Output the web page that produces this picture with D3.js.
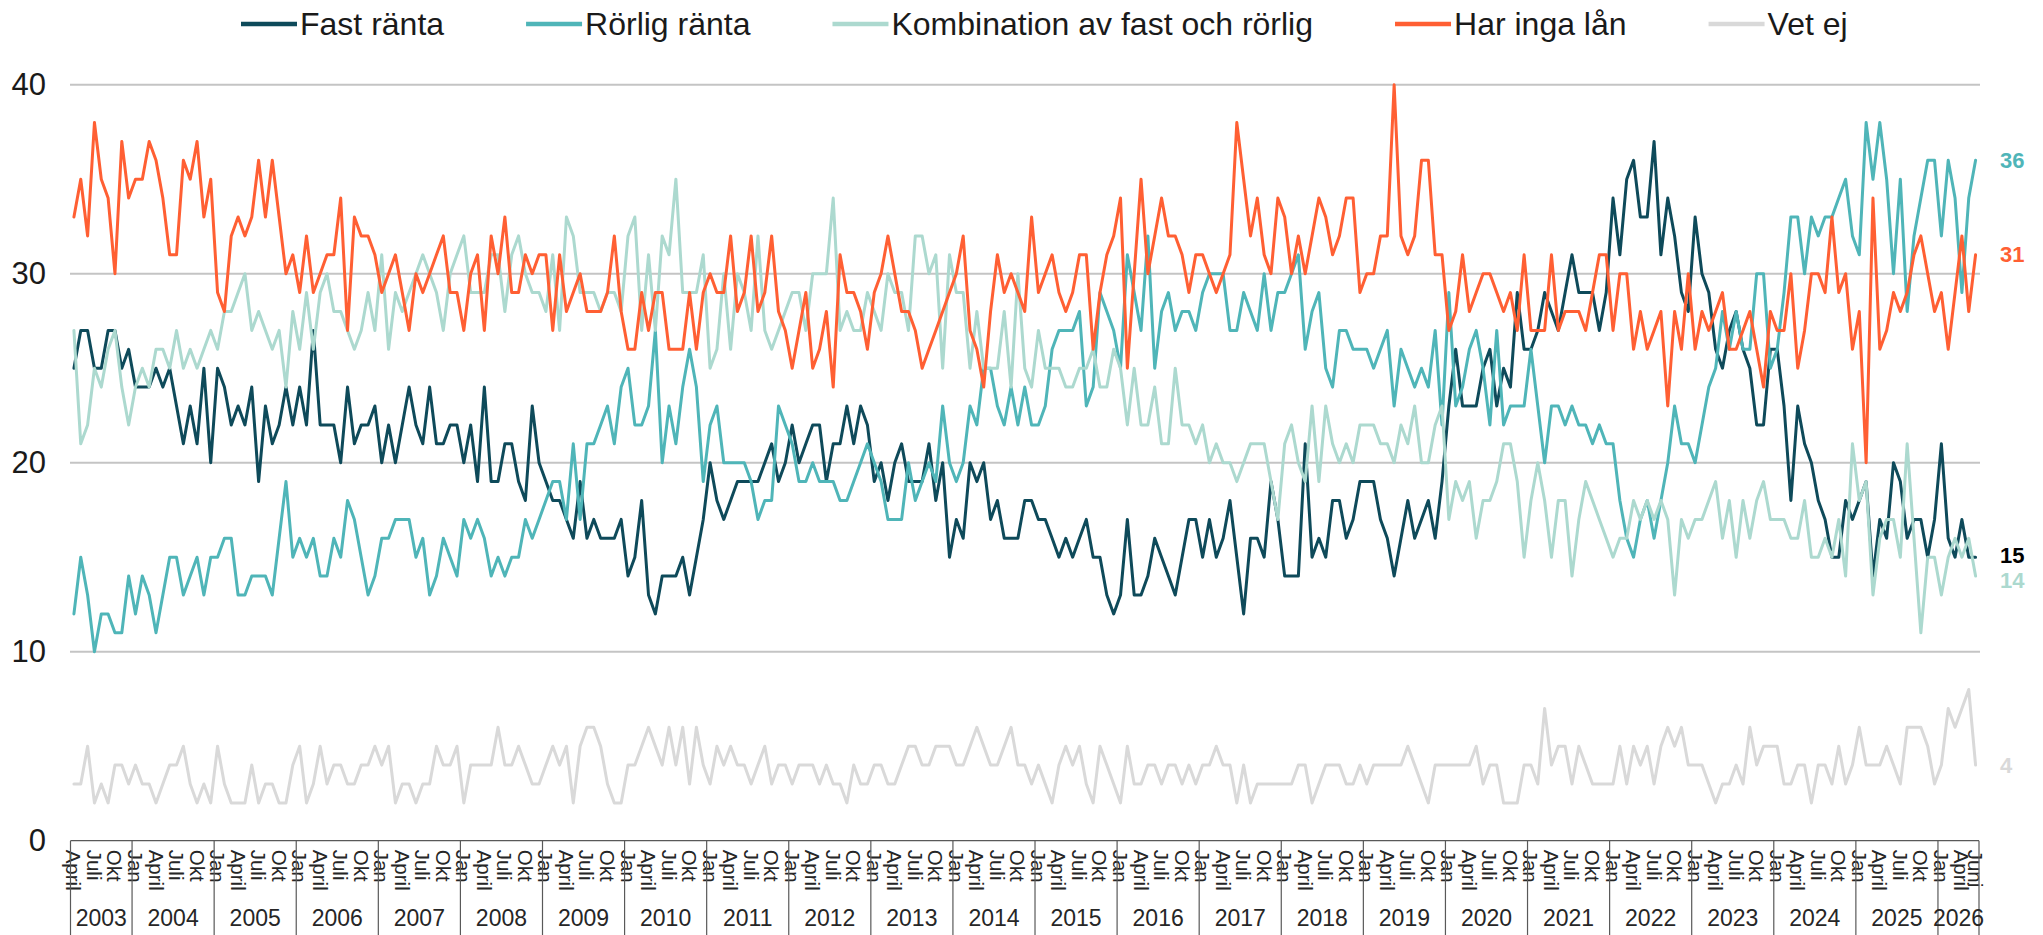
<!DOCTYPE html>
<html>
<head>
<meta charset="utf-8">
<script src="https://cdn.jsdelivr.net/npm/d3@7"></script>
<style>
  body { margin: 0; background: #fff; }
  svg { display: block; }
  text { font-family: "Liberation Sans", Arial, sans-serif; }
</style>
</head>
<body>
<div id="chart"></div>
<script>
// First category is April 2003, one value per month up to June 2026
const startYear = 2003;
const startMonth = 4;
const monthNames = ["Jan", "Feb", "Mars", "April", "Maj", "Juni", "Juli", "Aug", "Sep", "Okt", "Nov", "Dec"];
const labelMonths = [1, 4, 7, 10]; // months that get a tick label
const yTicks = [0, 10, 20, 30, 40];

const seriesNames = ["Fast ränta", "Rörlig ränta", "Kombination av fast och rörlig", "Har inga lån", "Vet ej"];
const seriesColors = ["#0e4a5a", "#4fb5b8", "#acd9cf", "#ff5f33", "#d9d9d9"];
const endLabelColors = ["#000000", "#4fb5b8", "#acd9cf", "#ff5f33", "#d9d9d9"];
const endLabelNudge = [-2, 0, 4, 0, 0]; // keeps 15 and 14 apart a little

const fastRanta = [
  25,27,27,25,25,27,27,25,26,24, 24,24,25,24,25,23,21,23,21,25, 20,25,24,22,23,22,24,19,23,21, 22,24,22,24,22,27,22,22,22,20, 24,21,22,22,23,20,22,
  20,22,24,22,21,24,21,21,22,22, 20,22,19,24,19,19,21,21,19,18, 23,20,19,18,18,17,16,19,16,17, 16,16,16,17,14,15,18,13,12,14, 14,14,15,13,15,17,
  20,18,17,18,19,19,19,19,20,21, 19,20,22,20,21,22,22,19,21,21, 23,21,23,22,19,20,
  18,20,21,19,19,19,21,18,20,15, 17,16,20,19,20,17,18,16,16,16, 18,18,17,17,16,15,16,15,16,17, 15,15,13,12,13,17,13,13,14,16,
  15,14,13,15,17,17,15,17,15,16, 18,15,12,16,16,15,19,17,14,14, 14,21,15,16,15,18,18,16,
  17,19,19,19,17,16,14,16,18,16,17,18,16,19,
  23,26,23,23,23,25,26,23,25,24, 29,26,26,27,29,28,27,29,31,29, 29,29,27,29,34,31,35,36,33,33, 37,
  31,34,32,29,28,33,30,29,26,25, 27,28,26,25,22,22,26,26,23,18, 23,21,20,18,
  17,15,15,18,17,18,19,14,17,16, 20,19,16,17,17,15,17,21,16,15, 17,15,15
];

const rorligRanta = [
  12,15,13,10,12,12,11,11,14,12, 14,13,11,13,15,15,13,14,15,13, 15,15,16,16,13,13,14,14,14,13, 16,19,15,16,15,16,14,14,16,15,
  18,17,15,13,14,16,16,17,17,17, 15,16,13,14,16,15,14,17,16,17, 16,14,15,14,15,15,17,16,17,18, 19,19,17,21,17,21,21,
  22,23,21,24,25,22,22,23,27,20,23,21,24,26,24,
  19,22,23,20,20,20,20,19,17,18, 18,23,22,21,19,19,20,19,19,19, 18,18,19,20,21,20,19,17,17,17, 20,18,19,20,19,23,20,19,20,23, 22,25,25,23,22,24,22,24,22,
  22,23,26,27,27,27,28,23,24,29, 28,27,25,31,29,27,32,25,28,29, 27,28,28,27,29,30,30,30,27,27, 29,28,27,30,27,29,29,30,31,26, 28,29,25,24,27,27,26,
  26,26,25,26,27,23,26,25,24,25, 24,27,22,29,23,24,26,27,25,22, 27,22,23,23,23,26,23,20,23,23, 22,23,22,22,21,22,21,21,
  18,16,15,17,18,16,18,20,
  23,21,21,20,22,24,25,28,26,28, 26,26,30,30,25,26,29,33,33,30, 33,32,33,33,34,35,32,31,38,35, 38,35,30,35,28,32,34,36,36,32, 36,34,29,34,36
];

const kombination = [
  27,21,22,25,24,26,27,24,22,24, 25,24,26,26,25,27,25,26,25,26, 27,26,28,28,29,30,27,28,27,26, 27,24,28,26,29,26,29,30,28,28, 27,26,27,29,27,31,26,
  29,28,29,30,31,30,29,27,30,31, 32,29,29,29,31,31,28,31,32,30, 29,29,28,31,27,33,32,29,29,29, 28,29,29,28,32,33,27,31,27,32, 31,35,29,29,29,31,25,
  26,30,26,30,29,27,32,27,26,27, 28,29,29,27,30,30,30,34,27,28, 27,27,29,28,27,30,29,29,27,32, 32,30,31,25,31,29,29,25,28,25, 25,25,28,24,30,25,24,
  27,25,25,25,24,24,25,25,26,24, 24,26,25,22,25,22,22,24,21,21, 25,22,22,21,22,20,21,20,20,19, 20,21,21,21,19,17,21,22,20,19, 23,19,23,21,20,21,20,22,22,22, 21,21,20,22,21,23,20,20,22,23,
  17,19,18,19,16,18,18,19,21,21, 19,15,18,20,18,15,18,18,14,17, 19,18,17,16,15,16,16,18,17,18, 17,18,17,13,17,16,17,17,18,19, 16,18,15,18,16,18,19,17,17,17,
  16,16,18,15,15,16,15,17,14,21, 18,19,13,16,17,17,15,21,16,11, 15,15,13,15,16,15,16,14
];

const harIngaLan = [
  33,35,32,38,35,34,30,37,34,35, 35,37,36,34,31,31,36,35,37,33, 35,29,28,32,33,32,33,36,33,36, 33,30,31,29,32,29,30,31,31,34, 27,33,32,32,31,29,30,
  31,29,27,30,29,30,31,32,29,29, 27,30,31,27,32,30,33,29,29,31, 30,31,31,27,31,28,29,30,28,28, 28,29,32,28,26,26,29,27,29,29, 26,26,26,29,26,29,30,
  29,29,32,28,29,32,28,29,32,28, 27,25,27,29,25,26,28,24,31,29, 29,28,26,29,30,32,30,28,28,27, 25,26,27,28,29,30,32,27,26,24, 28,31,29,30,29,28,33,
  29,30,31,29,28,29,31,31,26,29, 31,32,34,25,30,35,30,32,34,32, 32,31,29,31,31,30,29,30,31,38, 35,32,34,31,30,34,33,30,32,30, 32,34,33,31,32,34,34,
  29,30,30,32,32,40,32,31,32,36, 36,31,31,27,28,31,28,29,30,30, 29,28,29,27,31,27,27,27,31,27, 28,28,28,27,29,31,31,27,30,30, 26,28,26,27,
  28,23,28,26,30,26,28,27,28,29, 26,26,27,28,26,24,28,27,27,30, 25,27,30,30,29,33,29,30,26,28, 20,34,26,27,29,28,29,31,32,30, 28,29,26,29,32,28,31
];

const vetEj = [
  3,3,5,2,3,2,4,4,3,4, 3,3,2,3,4,4,5,3,2,3, 2,5,3,2,2,2,4,2,3,3, 2,2,4,5,2,3,5,3,4,4, 3,3,4,4,5,4,5,2,3,3,
  2,3,3,5,4,4,5,2,4,4, 4,4,6,4,4,5,4,3,3,4, 5,4,5,2,5,6,6,5,3,2, 2,4,4,5,6,5,4,6,4,6, 3,6,4,
  3,5,4,5,4,4,3,4,5,3, 4,4,3,4,4,4,3,4,3,3, 2,4,3,3,4,4,3,3,4,5, 5,4,4,5,5,5,4,4,5,6, 5,4,4,5,6,4,4,3,4,3,
  2,4,5,4,5,3,2,5,4,3, 2,5,3,3,4,4,3,4,4,3, 4,3,4,4,5,4,4,2,4,2, 3,3,3,3,3,3,4,4,2,3, 4,4,4,3,
  3,4,3,4,4,4,4,4,5,4, 3,2,4,4,4,4,4,4,5,3, 4,4,2,2,2,4,4,3,7,4, 5,5,3,5,4,3,3,3,3,5, 3,5,4,5,3,5,6,5,6,4,
  4,4,3,2,3,3,4,3,6,4, 5,5,5,3,3,4,4,2,4,4, 3,5,3,4,6,4,4,4,5,4, 3,6,6,6,5,3,4,7,6,7, 8,4
];

class MortgageChart {
  constructor(selector) {
    this.selector = selector;
    this.width = 2043;
    this.height = 935;
    this.plot = { left: 70.5, right: 1979, top: 84.7, bottom: 840.7 };
    this.series = [fastRanta, rorligRanta, kombination, harIngaLan, vetEj];
    this.svg = null;
  }

  // one category per month, starting at startYear/startMonth
  buildMonths() {
    return d3.range(fastRanta.length).map((i) => {
      const m = startMonth - 1 + i;
      return { year: startYear + Math.floor(m / 12), month: (m % 12) + 1 };
    });
  }

  draw() {
    this.months = this.buildMonths();
    this.svg = d3.select(this.selector).append("svg")
      .attr("width", this.width)
      .attr("height", this.height);

    this.x = d3.scaleBand()
      .domain(d3.range(this.months.length))
      .range([this.plot.left, this.plot.right]);
    this.y = d3.scaleLinear()
      .domain([0, 40])
      .range([this.plot.bottom, this.plot.top]);

    this.drawGrid();
    this.drawCategoryAxis();
    this.drawLines();
    this.drawEndLabels();
    this.drawLegend();
  }

  cx(i) {
    return this.x(i) + this.x.bandwidth() / 2;
  }

  drawGrid() {
    const g = this.svg.append("g");
    g.selectAll("line")
      .data(yTicks.filter((d) => d > 0))
      .join("line")
      .attr("x1", this.plot.left - 0.5)
      .attr("x2", this.plot.right + 1)
      .attr("y1", (d) => this.y(d))
      .attr("y2", (d) => this.y(d))
      .attr("stroke", "#c4c4c4")
      .attr("stroke-width", 2);

    g.selectAll("text")
      .data(yTicks)
      .join("text")
      .attr("x", 46)
      .attr("y", (d) => this.y(d))
      .attr("text-anchor", "end")
      .attr("dominant-baseline", "central")
      .style("font-size", "31px")
      .attr("fill", "#1a1a1a")
      .text((d) => d);
  }

  // month labels plus the boxed year row underneath
  drawCategoryAxis() {
    const g = this.svg.append("g");
    const y0 = this.plot.bottom;
    const last = this.months.length - 1;

    g.append("line")
      .attr("x1", this.plot.left).attr("x2", this.plot.right)
      .attr("y1", y0).attr("y2", y0)
      .attr("stroke", "#595959").attr("stroke-width", 1.2);

    const ticks = this.months
      .map((d, i) => ({ ...d, i }))
      .filter((d) => labelMonths.includes(d.month) || d.i === last);

    g.selectAll("text.tick")
      .data(ticks)
      .join("text")
      .attr("class", "tick")
      .attr("transform", (d) => `translate(${this.cx(d.i)},${y0 + 9}) rotate(90)`)
      .attr("dominant-baseline", "central")
      .style("font-size", "20.5px")
      .attr("fill", "#262626")
      .text((d) => monthNames[d.month - 1]);

    // year boundaries
    const years = Array.from(d3.group(this.months.map((d, i) => ({ ...d, i })), (d) => d.year),
      ([year, rows]) => ({ year, first: rows[0].i, lastIdx: rows[rows.length - 1].i }));

    const edges = years.map((d) => this.x(d.first)).concat([this.plot.right]);
    g.selectAll("line.sep")
      .data(edges)
      .join("line")
      .attr("class", "sep")
      .attr("x1", (d) => d).attr("x2", (d) => d)
      .attr("y1", y0).attr("y2", this.height)
      .attr("stroke", "#595959").attr("stroke-width", 1.2);

    g.selectAll("text.year")
      .data(years)
      .join("text")
      .attr("class", "year")
      .attr("x", (d) => (this.x(d.first) + this.x(d.lastIdx) + this.x.bandwidth()) / 2)
      .attr("y", 918)
      .attr("text-anchor", "middle")
      .attr("dominant-baseline", "central")
      .style("font-size", "23px")
      .attr("fill", "#262626")
      .text((d) => d.year);
  }

  drawLines() {
    const line = d3.line()
      .x((d, i) => this.cx(i))
      .y((d) => this.y(d));

    this.svg.append("g")
      .selectAll("path")
      .data(this.series)
      .join("path")
      .attr("d", (d) => line(d))
      .attr("fill", "none")
      .attr("stroke", (d, i) => seriesColors[i])
      .attr("stroke-width", 3)
      .attr("stroke-linejoin", "round")
      .attr("stroke-linecap", "round");
  }

  drawEndLabels() {
    this.svg.append("g")
      .selectAll("text")
      .data(this.series)
      .join("text")
      .attr("x", 2000)
      .attr("y", (d, i) => this.y(d[d.length - 1]) + endLabelNudge[i])
      .attr("dominant-baseline", "central")
      .style("font-size", "22px")
      .style("font-weight", "bold")
      .attr("fill", (d, i) => endLabelColors[i])
      .text((d) => d[d.length - 1]);
  }

  drawLegend() {
    const g = this.svg.append("g");
    let x = 241;
    seriesNames.forEach((name, i) => {
      g.append("line")
        .attr("x1", x).attr("x2", x + 56)
        .attr("y1", 24).attr("y2", 24)
        .attr("stroke", seriesColors[i])
        .attr("stroke-width", 4.5);
      const t = g.append("text")
        .attr("x", x + 59)
        .attr("y", 24)
        .attr("dominant-baseline", "central")
        .style("font-size", "32px")
        .attr("fill", "#1a1a1a")
        .text(name);
      x += 59 + t.node().getComputedTextLength() + 82;
    });
  }
}

const chart = new MortgageChart("#chart");
chart.draw();
</script>
</body>
</html>
